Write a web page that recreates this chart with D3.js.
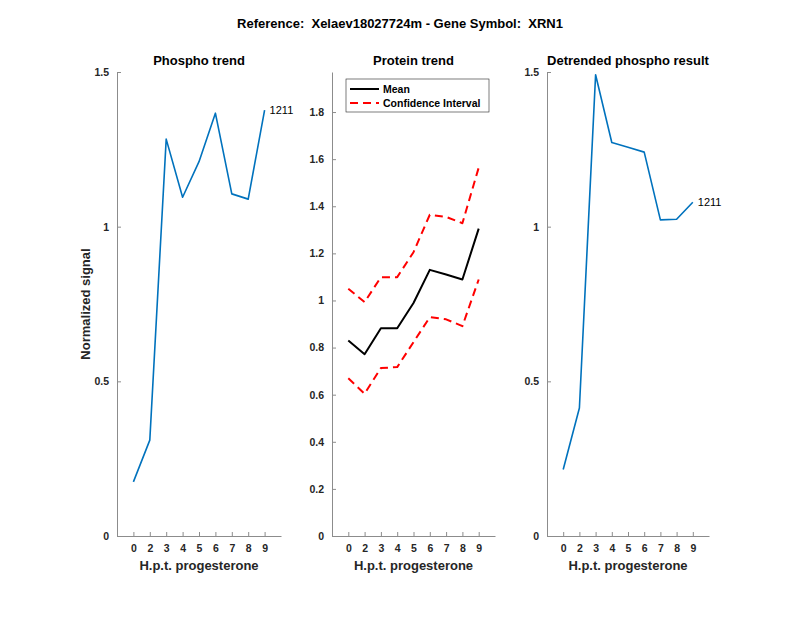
<!DOCTYPE html>
<html>
<head>
<meta charset="utf-8">
<script src="https://cdn.jsdelivr.net/npm/d3@7"></script>
<style>
  body { margin: 0; background: #fff; }
  text { font-family: "Liberation Sans", Arial, sans-serif; }
</style>
</head>
<body>
<div id="chart"></div>
<script>
// data
const timepoints = ["0", "2", "3", "4", "5", "6", "7", "8", "9"];
const phosphoTrend = [0.175, 0.31, 1.283, 1.095, 1.21, 1.367, 1.106, 1.089, 1.377];
const proteinMean = [0.83, 0.772, 0.882, 0.882, 0.989, 1.13, 1.11, 1.089, 1.305];
const proteinUpper = [1.05, 0.993, 1.099, 1.099, 1.205, 1.364, 1.355, 1.328, 1.564];
const proteinLower = [0.67, 0.604, 0.713, 0.717, 0.823, 0.929, 0.92, 0.891, 1.089];
const detrended = [0.215, 0.414, 1.491, 1.272, 1.257, 1.241, 1.022, 1.024, 1.079];
const phosphoTicks = [0, 0.5, 1, 1.5];
const proteinTicks = [0, 0.2, 0.4, 0.6, 0.8, 1, 1.2, 1.4, 1.6, 1.8];
const peptideLabel = "1211";

const width = 800, height = 618;
const plotTop = 72, plotBottom = 536;
const axisColor = "#8c8c8c";
const labelColor = "#262626";

const svg = d3.select("#chart").append("svg")
  .attr("width", width).attr("height", height);

svg.append("text")
  .attr("x", 400).attr("y", 28)
  .attr("text-anchor", "middle")
  .style("white-space", "pre")
  .style("font-size", "13px").style("font-weight", "bold")
  .attr("fill", "#000")
  .text("Reference:  Xelaev18027724m - Gene Symbol:  XRN1");

const panels = [
  { left: 117, right: 281, ymax: 1.5, ticks: phosphoTicks, title: "Phospho trend", ylabel: "Normalized signal" },
  { left: 332, right: 495, ymax: 1.97, ticks: proteinTicks, title: "Protein trend" },
  { left: 547, right: 709, ymax: 1.5, ticks: phosphoTicks, title: "Detrended phospho result" }
];

function drawAxes(p) {
  const x = d3.scaleLinear().domain([0, timepoints.length + 1]).range([p.left, p.right]);
  const y = d3.scaleLinear().domain([0, p.ymax]).range([plotBottom, plotTop]);
  const g = svg.append("g");

  // x axis
  const xa = g.append("g").attr("transform", `translate(0,${plotBottom})`)
    .call(d3.axisBottom(x).tickValues(d3.range(1, timepoints.length + 1))
      .tickFormat(i => timepoints[i - 1]).tickSizeInner(-4).tickSizeOuter(0).tickPadding(9));
  // y axis
  const ya = g.append("g").attr("transform", `translate(${p.left},0)`)
    .call(d3.axisLeft(y).tickValues(p.ticks).tickFormat(d3.format("~g"))
      .tickSizeInner(-4).tickSizeOuter(0).tickPadding(8));
  [xa, ya].forEach(a => {
    a.select(".domain").attr("stroke", axisColor);
    a.selectAll(".tick line").attr("stroke", axisColor);
    a.selectAll(".tick text").attr("fill", labelColor)
      .style("font-size", "10.5px").style("font-weight", "bold")
      .style("font-family", "'Liberation Sans', Arial, sans-serif");
  });

  g.append("text")
    .attr("x", (p.left + p.right) / 2).attr("y", 65)
    .attr("text-anchor", "middle")
    .style("font-size", "13px").style("font-weight", "bold")
    .attr("fill", "#000").text(p.title);

  g.append("text")
    .attr("x", (p.left + p.right) / 2).attr("y", 570)
    .attr("text-anchor", "middle")
    .style("font-size", "13px").style("font-weight", "bold")
    .attr("fill", labelColor).text("H.p.t. progesterone");

  if (p.ylabel) {
    g.append("text")
      .attr("transform", `translate(${p.left - 27},${(plotTop + plotBottom) / 2}) rotate(-90)`)
      .attr("text-anchor", "middle")
      .style("font-size", "13px").style("font-weight", "bold")
      .attr("fill", labelColor).text(p.ylabel);
  }
  return { x, y };
}

function drawLine(s, values, color, w, dash) {
  const line = d3.line().x((d, i) => s.x(i + 1)).y(d => s.y(d));
  svg.append("path").datum(values)
    .attr("fill", "none").attr("stroke", color)
    .attr("stroke-width", w)
    .attr("stroke-dasharray", dash || null)
    .attr("stroke-linejoin", "round")
    .attr("d", line);
}

function endLabel(s, values) {
  const n = values.length;
  svg.append("text")
    .attr("x", s.x(n) + 5).attr("y", s.y(values[n - 1]))
    .attr("dy", "0.35em")
    .style("font-size", "11px")
    .attr("fill", "#000").text(peptideLabel);
}

const blue = "#0072BD";

const s1 = drawAxes(panels[0]);
drawLine(s1, phosphoTrend, blue, 1.6);
endLabel(s1, phosphoTrend);

const s2 = drawAxes(panels[1]);
drawLine(s2, proteinMean, "#000", 2);
drawLine(s2, proteinUpper, "#ff0000", 2, "8,5");
drawLine(s2, proteinLower, "#ff0000", 2, "8,5");

const s3 = drawAxes(panels[2]);
drawLine(s3, detrended, blue, 1.6);
endLabel(s3, detrended);

// legend
const lg = svg.append("g").attr("transform", "translate(346,79)");
lg.append("rect").attr("width", 143).attr("height", 33)
  .attr("fill", "#fff").attr("stroke", "#262626").attr("stroke-width", 0.6);
const legendItems = [
  { label: "Mean", color: "#000", dash: null },
  { label: "Confidence Interval", color: "#ff0000", dash: "8,5" }
];
legendItems.forEach((d, i) => {
  const yy = 10 + i * 14;
  lg.append("line").attr("x1", 4).attr("x2", 33).attr("y1", yy).attr("y2", yy)
    .attr("stroke", d.color).attr("stroke-width", 2)
    .attr("stroke-dasharray", d.dash);
  lg.append("text").attr("x", 37).attr("y", yy).attr("dy", "0.35em")
    .style("font-size", "10.5px").style("font-weight", "bold")
    .attr("fill", "#000").text(d.label);
});
</script>
</body>
</html>
